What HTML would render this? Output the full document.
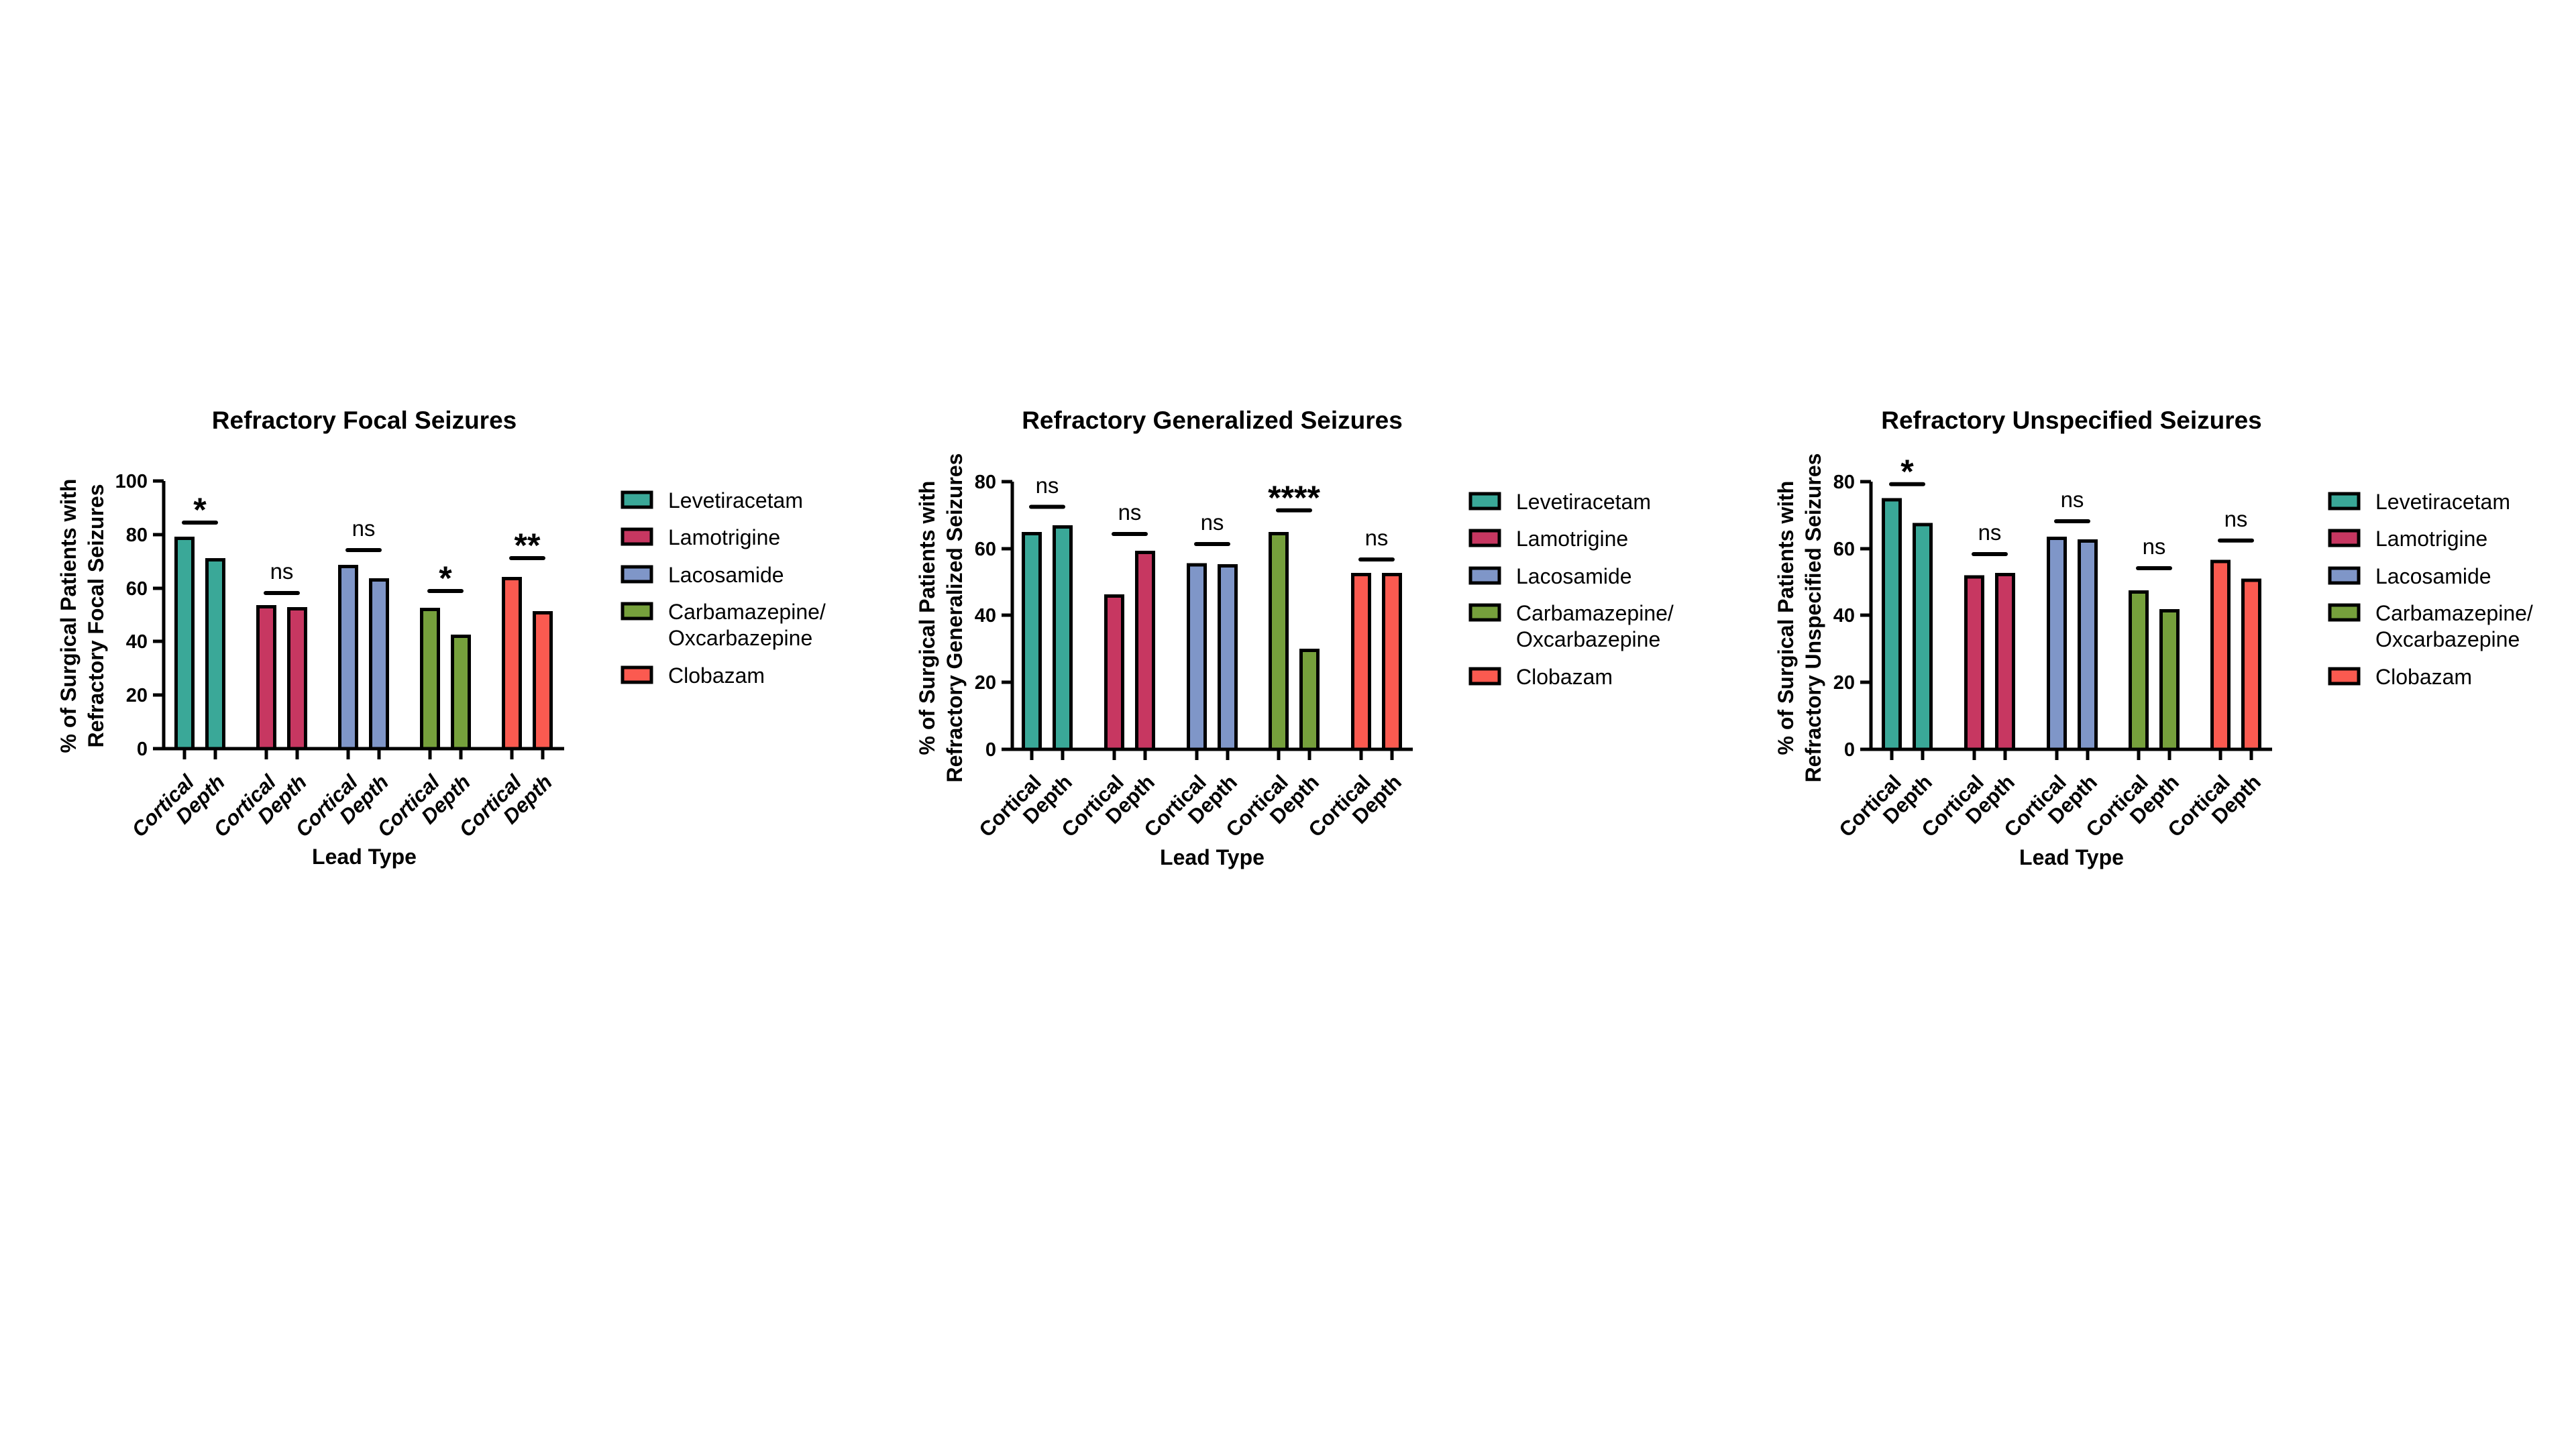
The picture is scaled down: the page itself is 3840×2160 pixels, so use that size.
<!DOCTYPE html>
<html><head><meta charset="utf-8"><style>
html,body{margin:0;padding:0;background:#fff;}
svg{display:block;font-family:"Liberation Sans",Arial,sans-serif;}
.tk{font-weight:bold;font-size:29px;text-anchor:end;}
.xl{font-weight:bold;font-size:31px;text-anchor:end;}
.yt{font-weight:bold;font-size:32px;text-anchor:middle;}
.tt{font-weight:bold;font-size:37px;text-anchor:middle;}
.lt{font-weight:bold;font-size:32px;text-anchor:middle;}
.lg{font-size:32px;}
.ns{font-size:33px;text-anchor:middle;}
.st{font-size:50px;font-weight:bold;text-anchor:middle;}
.ax{stroke:#000;stroke-width:5;fill:none;}
.sg{stroke:#000;stroke-width:6;stroke-linecap:round;}
.b{stroke:#000;stroke-width:5;}
.t{fill:#3aa898}.r{fill:#c73761}.u{fill:#7f96c8}.g{fill:#76a03c}.o{fill:#fb5a50}
</style></head><body>
<svg width="3840" height="2160" viewBox="0 0 3840 2160" xmlns="http://www.w3.org/2000/svg">
<rect width="3840" height="2160" fill="#fff"/>

<!-- ===== Chart 1 ===== -->
<text class="tt" x="543" y="639">Refractory Focal Seizures</text>
<text class="yt" transform="translate(113,918) rotate(-90)">% of Surgical Patients with</text>
<text class="yt" transform="translate(154,918) rotate(-90)">Refractory Focal Seizures</text>
<path class="ax" d="M244,717 V1116 H841"/>
<path class="ax" d="M228,717H244M228,797H244M228,877H244M228,956H244M228,1036H244M228,1116H244"/>
<text class="tk" x="220" y="727">100</text><text class="tk" x="220" y="807">80</text><text class="tk" x="220" y="887">60</text>
<text class="tk" x="220" y="966">40</text><text class="tk" x="220" y="1046">20</text><text class="tk" x="220" y="1126">0</text>
<path class="ax" d="M275,1116V1132M321,1116V1132M397,1116V1132M443,1116V1132M519,1116V1132M565,1116V1132M641,1116V1132M687,1116V1132M763,1116V1132M809,1116V1132"/>
<rect class="b t" x="262.5" y="802.5" width="25" height="313.5"/>
<rect class="b t" x="308.5" y="834.5" width="25" height="281.5"/>
<rect class="b r" x="384.5" y="904.5" width="25" height="211.5"/>
<rect class="b r" x="430.5" y="907.5" width="25" height="208.5"/>
<rect class="b u" x="506.5" y="844.5" width="25" height="271.5"/>
<rect class="b u" x="552.5" y="864.5" width="25" height="251.5"/>
<rect class="b g" x="628.5" y="908.5" width="25" height="207.5"/>
<rect class="b g" x="674.5" y="948.5" width="25" height="167.5"/>
<rect class="b o" x="750.5" y="862.5" width="25" height="253.5"/>
<rect class="b o" x="796.5" y="913.5" width="25" height="202.5"/>
<line class="sg" x1="274" y1="779" x2="322" y2="779"/><text class="st" x="298" y="777">*</text>
<line class="sg" x1="396" y1="884" x2="444" y2="884"/><text class="ns" x="420" y="863">ns</text>
<line class="sg" x1="518" y1="820" x2="566" y2="820"/><text class="ns" x="542" y="799">ns</text>
<line class="sg" x1="640" y1="881" x2="688" y2="881"/><text class="st" x="664" y="879">*</text>
<line class="sg" x1="762" y1="832" x2="810" y2="832"/><text class="st" x="786" y="830">**</text>
<g class="xl" font-style="italic">
<text transform="translate(291,1168) rotate(-45)">Cortical</text><text transform="translate(337,1168) rotate(-45)">Depth</text>
<text transform="translate(413,1168) rotate(-45)">Cortical</text><text transform="translate(459,1168) rotate(-45)">Depth</text>
<text transform="translate(535,1168) rotate(-45)">Cortical</text><text transform="translate(581,1168) rotate(-45)">Depth</text>
<text transform="translate(657,1168) rotate(-45)">Cortical</text><text transform="translate(703,1168) rotate(-45)">Depth</text>
<text transform="translate(779,1168) rotate(-45)">Cortical</text><text transform="translate(825,1168) rotate(-45)">Depth</text>
</g>
<text class="lt" x="543" y="1288">Lead Type</text>
<g>
<rect class="b t" x="928" y="734" width="43" height="22" stroke-width="6"/><text class="lg" x="996" y="757">Levetiracetam</text>
<rect class="b r" x="928" y="789" width="43" height="22" stroke-width="6"/><text class="lg" x="996" y="812">Lamotrigine</text>
<rect class="b u" x="928" y="845" width="43" height="22" stroke-width="6"/><text class="lg" x="996" y="868">Lacosamide</text>
<rect class="b g" x="928" y="900" width="43" height="22" stroke-width="6"/><text class="lg" x="996" y="923">Carbamazepine/</text><text class="lg" x="996" y="962">Oxcarbazepine</text>
<rect class="b o" x="928" y="995" width="43" height="22" stroke-width="6"/><text class="lg" x="996" y="1018">Clobazam</text>
</g>

<!-- ===== Chart 2 ===== -->
<text class="tt" x="1807" y="639">Refractory Generalized Seizures</text>
<text class="yt" transform="translate(1393,921) rotate(-90)">% of Surgical Patients with</text>
<text class="yt" transform="translate(1434,921) rotate(-90)">Refractory Generalized Seizures</text>
<path class="ax" d="M1509,718 V1117 H2106"/>
<path class="ax" d="M1493,718H1509M1493,818H1509M1493,917H1509M1493,1017H1509M1493,1117H1509"/>
<text class="tk" x="1485" y="728">80</text><text class="tk" x="1485" y="828">60</text><text class="tk" x="1485" y="927">40</text>
<text class="tk" x="1485" y="1027">20</text><text class="tk" x="1485" y="1127">0</text>
<path class="ax" d="M1538,1117V1133M1584,1117V1133M1661,1117V1133M1707,1117V1133M1784,1117V1133M1830,1117V1133M1906,1117V1133M1952,1117V1133M2029,1117V1133M2075,1117V1133"/>
<rect class="b t" x="1525.5" y="795.5" width="25" height="321.5"/>
<rect class="b t" x="1571.5" y="785.5" width="25" height="331.5"/>
<rect class="b r" x="1648.5" y="888.5" width="25" height="228.5"/>
<rect class="b r" x="1694.5" y="823.5" width="25" height="293.5"/>
<rect class="b u" x="1771.5" y="842" width="25" height="275"/>
<rect class="b u" x="1817.5" y="843.5" width="25" height="273.5"/>
<rect class="b g" x="1893.5" y="795.5" width="25" height="321.5"/>
<rect class="b g" x="1939.5" y="969.5" width="25" height="147.5"/>
<rect class="b o" x="2016.5" y="856.5" width="25" height="260.5"/>
<rect class="b o" x="2062.5" y="856.5" width="25" height="260.5"/>
<line class="sg" x1="1537" y1="755.5" x2="1585" y2="755.5"/><text class="ns" x="1561" y="735">ns</text>
<line class="sg" x1="1660" y1="796" x2="1708" y2="796"/><text class="ns" x="1684" y="775">ns</text>
<line class="sg" x1="1783" y1="811" x2="1831" y2="811"/><text class="ns" x="1807" y="790">ns</text>
<line class="sg" x1="1905" y1="760.7" x2="1953" y2="760.7"/><text class="st" x="1929" y="759">****</text>
<line class="sg" x1="2028" y1="834" x2="2076" y2="834"/><text class="ns" x="2052" y="813">ns</text>
<g class="xl">
<text transform="translate(1554,1168) rotate(-45)">Cortical</text><text transform="translate(1600,1168) rotate(-45)">Depth</text>
<text transform="translate(1677,1168) rotate(-45)">Cortical</text><text transform="translate(1723,1168) rotate(-45)">Depth</text>
<text transform="translate(1800,1168) rotate(-45)">Cortical</text><text transform="translate(1846,1168) rotate(-45)">Depth</text>
<text transform="translate(1922,1168) rotate(-45)">Cortical</text><text transform="translate(1968,1168) rotate(-45)">Depth</text>
<text transform="translate(2045,1168) rotate(-45)">Cortical</text><text transform="translate(2091,1168) rotate(-45)">Depth</text>
</g>
<text class="lt" x="1807" y="1289">Lead Type</text>
<g transform="translate(1264,2)">
<rect class="b t" x="928" y="734" width="43" height="22" stroke-width="6"/><text class="lg" x="996" y="757">Levetiracetam</text>
<rect class="b r" x="928" y="789" width="43" height="22" stroke-width="6"/><text class="lg" x="996" y="812">Lamotrigine</text>
<rect class="b u" x="928" y="845" width="43" height="22" stroke-width="6"/><text class="lg" x="996" y="868">Lacosamide</text>
<rect class="b g" x="928" y="900" width="43" height="22" stroke-width="6"/><text class="lg" x="996" y="923">Carbamazepine/</text><text class="lg" x="996" y="962">Oxcarbazepine</text>
<rect class="b o" x="928" y="995" width="43" height="22" stroke-width="6"/><text class="lg" x="996" y="1018">Clobazam</text>
</g>

<!-- ===== Chart 3 ===== -->
<text class="tt" x="3088" y="639">Refractory Unspecified Seizures</text>
<text class="yt" transform="translate(2673,921) rotate(-90)">% of Surgical Patients with</text>
<text class="yt" transform="translate(2714,921) rotate(-90)">Refractory Unspecified Seizures</text>
<path class="ax" d="M2789,718 V1117 H3387"/>
<path class="ax" d="M2773,718H2789M2773,818H2789M2773,917H2789M2773,1017H2789M2773,1117H2789"/>
<text class="tk" x="2765" y="728">80</text><text class="tk" x="2765" y="828">60</text><text class="tk" x="2765" y="927">40</text>
<text class="tk" x="2765" y="1027">20</text><text class="tk" x="2765" y="1127">0</text>
<path class="ax" d="M2820,1117V1133M2866,1117V1133M2943,1117V1133M2989,1117V1133M3066,1117V1133M3112,1117V1133M3188,1117V1133M3234,1117V1133M3310,1117V1133M3356,1117V1133"/>
<rect class="b t" x="2807.5" y="745" width="25" height="372"/>
<rect class="b t" x="2853.5" y="782" width="25" height="335"/>
<rect class="b r" x="2930.5" y="860" width="25" height="257"/>
<rect class="b r" x="2976.5" y="856.5" width="25" height="260.5"/>
<rect class="b u" x="3053.5" y="802.5" width="25" height="314.5"/>
<rect class="b u" x="3099.5" y="806.5" width="25" height="310.5"/>
<rect class="b g" x="3175.5" y="882.5" width="25" height="234.5"/>
<rect class="b g" x="3221.5" y="910.5" width="25" height="206.5"/>
<rect class="b o" x="3297.5" y="837" width="25" height="280"/>
<rect class="b o" x="3343.5" y="865" width="25" height="252"/>
<line class="sg" x1="2819" y1="721.8" x2="2867" y2="721.8"/><text class="st" x="2843" y="720">*</text>
<line class="sg" x1="2942" y1="826" x2="2990" y2="826"/><text class="ns" x="2966" y="805">ns</text>
<line class="sg" x1="3065" y1="777" x2="3113" y2="777"/><text class="ns" x="3089" y="756">ns</text>
<line class="sg" x1="3187" y1="847" x2="3235" y2="847"/><text class="ns" x="3211" y="826">ns</text>
<line class="sg" x1="3309" y1="805.8" x2="3357" y2="805.8"/><text class="ns" x="3333" y="785">ns</text>
<g class="xl">
<text transform="translate(2836,1168) rotate(-45)">Cortical</text><text transform="translate(2882,1168) rotate(-45)">Depth</text>
<text transform="translate(2959,1168) rotate(-45)">Cortical</text><text transform="translate(3005,1168) rotate(-45)">Depth</text>
<text transform="translate(3082,1168) rotate(-45)">Cortical</text><text transform="translate(3128,1168) rotate(-45)">Depth</text>
<text transform="translate(3204,1168) rotate(-45)">Cortical</text><text transform="translate(3250,1168) rotate(-45)">Depth</text>
<text transform="translate(3326,1168) rotate(-45)">Cortical</text><text transform="translate(3372,1168) rotate(-45)">Depth</text>
</g>
<text class="lt" x="3088" y="1289">Lead Type</text>
<g transform="translate(2545,2)">
<rect class="b t" x="928" y="734" width="43" height="22" stroke-width="6"/><text class="lg" x="996" y="757">Levetiracetam</text>
<rect class="b r" x="928" y="789" width="43" height="22" stroke-width="6"/><text class="lg" x="996" y="812">Lamotrigine</text>
<rect class="b u" x="928" y="845" width="43" height="22" stroke-width="6"/><text class="lg" x="996" y="868">Lacosamide</text>
<rect class="b g" x="928" y="900" width="43" height="22" stroke-width="6"/><text class="lg" x="996" y="923">Carbamazepine/</text><text class="lg" x="996" y="962">Oxcarbazepine</text>
<rect class="b o" x="928" y="995" width="43" height="22" stroke-width="6"/><text class="lg" x="996" y="1018">Clobazam</text>
</g>
</svg>
</body></html>
